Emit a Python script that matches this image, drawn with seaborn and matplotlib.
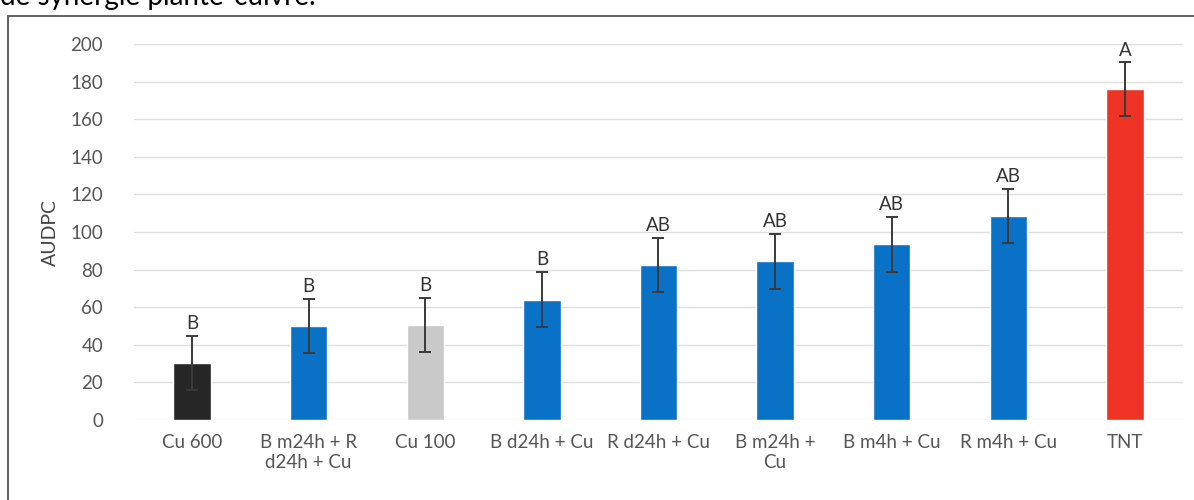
import numpy as np
import pandas as pd
import matplotlib.pyplot as plt
import seaborn as sns
from matplotlib.patches import Rectangle

treatments = ['Cu 600', 'B m24h + R\nd24h + Cu', 'Cu 100', 'B d24h + Cu', 'R d24h + Cu',
              'B m24h +\nCu', 'B m4h + Cu', 'R m4h + Cu', 'TNT']
audpc = [30.5, 50, 50.5, 64, 82.5, 84.5, 93.5, 108.5, 176]
errors = [14.3, 14.5, 14.5, 14.6, 14.5, 14.6, 14.6, 14.3, 14.2]
letters = ['B', 'B', 'B', 'B', 'AB', 'AB', 'AB', 'AB', 'A']
colors = ['#262626', '#0A72C6', '#C9C9C9', '#0A72C6', '#0A72C6',
          '#0A72C6', '#0A72C6', '#0A72C6', '#EE3224']

df = pd.DataFrame({'Traitement': treatments, 'AUDPC': audpc})

sns.set_style('white')
plt.rcParams['font.family'] = ['Lato', 'DejaVu Sans']

fig = plt.figure(figsize=(11.94, 5), dpi=100)
ax = fig.add_axes([0.112, 0.16, 0.879, 0.752])

sns.barplot(data=df, x='Traitement', y='AUDPC', hue='Traitement', palette=colors,
            legend=False, width=0.32, saturation=1, ax=ax)

xs = ax.get_xticks()
ax.errorbar(xs, audpc, yerr=errors, fmt='none', ecolor='#3a3a3a', elinewidth=1.4,
            capsize=4, capthick=1.4)

for x, v, e, l in zip(xs, audpc, errors, letters):
    ax.text(x, v + e + 2, l, ha='center', va='bottom', fontsize=13.5, color='#333333')

ax.set_ylim(0, 200)
ax.set_yticks(range(0, 201, 20))
ax.yaxis.grid(True, color='#dedede', linewidth=1)
ax.set_axisbelow(True)
for s in ax.spines.values():
    s.set_visible(False)
ax.tick_params(axis='both', length=0, labelsize=13.5, colors='#555555')
ax.tick_params(axis='y', pad=22)
ax.tick_params(axis='x', pad=10)
ax.set_xlabel('')
ax.set_ylabel('AUDPC', fontsize=14, color='#444444', labelpad=8)
ax.set_xlim(-0.5, len(treatments) - 0.5)

# cadre du graphique et titre coupé (comme sur le scan)
fig.patches.append(Rectangle((8 / 1194, -0.1), 1.2, 1.1 - 16 / 500, transform=fig.transFigure,
                             fill=False, edgecolor='#555555', linewidth=1.3))
fig.text(0.0, 0.99, 'de synergie plante-cuivre.', fontsize=20, color='black',
         ha='left', va='baseline')

plt.savefig('out.png', dpi=100)
